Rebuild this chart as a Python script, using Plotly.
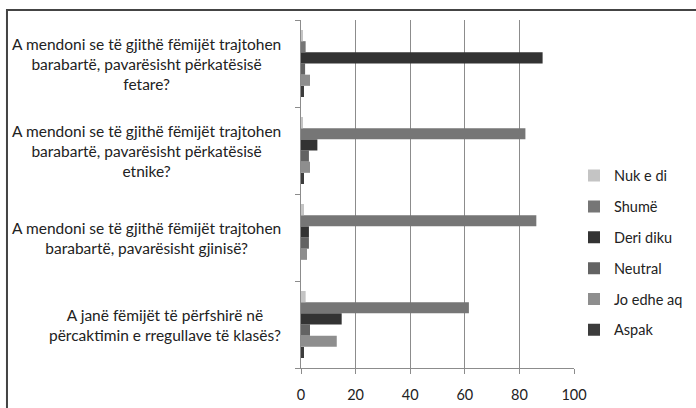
import plotly.graph_objects as go

categories = [
    "A janë fëmijët të përfshirë në<br>përcaktimin e rregullave të klasës?",
    "A mendoni se të gjithë fëmijët trajtohen<br>barabartë, pavarësisht gjinisë?",
    "A mendoni se të gjithë fëmijët trajtohen<br>barabartë, pavarësisht përkatësisë<br>etnike?",
    "A mendoni se të gjithë fëmijët trajtohen<br>barabartë, pavarësisht përkatësisë<br>fetare?",
]
cat_ids = ["c4", "c3", "c2", "c1"]

# values listed bottom category first (matching categories order)
aspak = [1.1, 0.0, 1.1, 1.1]
jo_edhe_aq = [13.1, 2.2, 3.3, 3.3]
neutral = [3.3, 2.9, 2.9, 1.5]
deri_diku = [14.9, 2.9, 6.0, 88.5]
shume = [61.5, 86.2, 82.2, 1.7]
nuk_e_di = [1.7, 1.1, 0.5, 0.6]

series_names = ["Aspak", "Jo edhe aq", "Neutral", "Deri diku", "Shumë", "Nuk e di"]
series_values = [aspak, jo_edhe_aq, neutral, deri_diku, shume, nuk_e_di]
series_colors = ["#3c3c3c", "#8e8e8e", "#636363", "#333333", "#767676", "#c4c4c4"]

x_ticks = [0, 20, 40, 60, 80, 100]

FONT = "Lato"
fig = go.Figure()
n = len(series_names)
for i, (name, vals, col) in enumerate(zip(series_names, series_values, series_colors)):
    fig.add_trace(go.Bar(
        y=cat_ids, x=vals, orientation="h", name=name,
        marker=dict(color=col, line=dict(width=0)),
        legendgroup=name, legendrank=n - i,
    ))

annotations = []
for cid, label in zip(cat_ids, categories):
    annotations.append(dict(
        x=0, xref="paper", y=cid, yref="y", text=label, showarrow=False,
        xanchor="right", yanchor="middle", align="center", xshift=-18,
        font=dict(family=FONT, size=15.5, color="#222222"),
    ))

fig.update_layout(
    width=696, height=408,
    margin=dict(l=301, r=122, t=20, b=40, autoexpand=False),
    paper_bgcolor="white", plot_bgcolor="white",
    barmode="group", bargap=0.23, bargroupgap=0,
    showlegend=True,
    legend=dict(
        x=1.0, xanchor="left", y=0.33, yanchor="middle",
        traceorder="grouped", tracegroupgap=9,
        font=dict(family=FONT, size=14.5, color="#222222"),
        itemwidth=30,
    ),
    xaxis=dict(
        range=[0, 100], tickvals=x_ticks, ticktext=[str(t) for t in x_ticks],
        showgrid=True, gridcolor="#8c8c8c", gridwidth=1,
        showline=True, linecolor="#8c8c8c", linewidth=1,
        ticks="outside", ticklen=5, tickcolor="#8c8c8c",
        ticklabelstandoff=9,
        zeroline=False,
        tickfont=dict(family=FONT, size=14.5, color="#222222"),
    ),
    yaxis=dict(
        categoryorder="array", categoryarray=cat_ids,
        showticklabels=False, showgrid=False,
        showline=True, linecolor="#8c8c8c", linewidth=1,
        ticks="outside", ticklen=5, tickcolor="#8c8c8c",
        tickson="boundaries", zeroline=False,
    ),
    annotations=annotations,
    shapes=[dict(
        type="rect", xref="paper", yref="paper",
        x0=-1.077, x1=2.0, y0=-1.0, y1=1.0287,
        line=dict(color="#444444", width=2), fillcolor="rgba(0,0,0,0)",
        layer="above",
    )],
)

fig.write_html(
    "out.html",
    config={"displayModeBar": False},
    post_script="document.body.style.margin='0';document.body.style.overflow='hidden';",
)
